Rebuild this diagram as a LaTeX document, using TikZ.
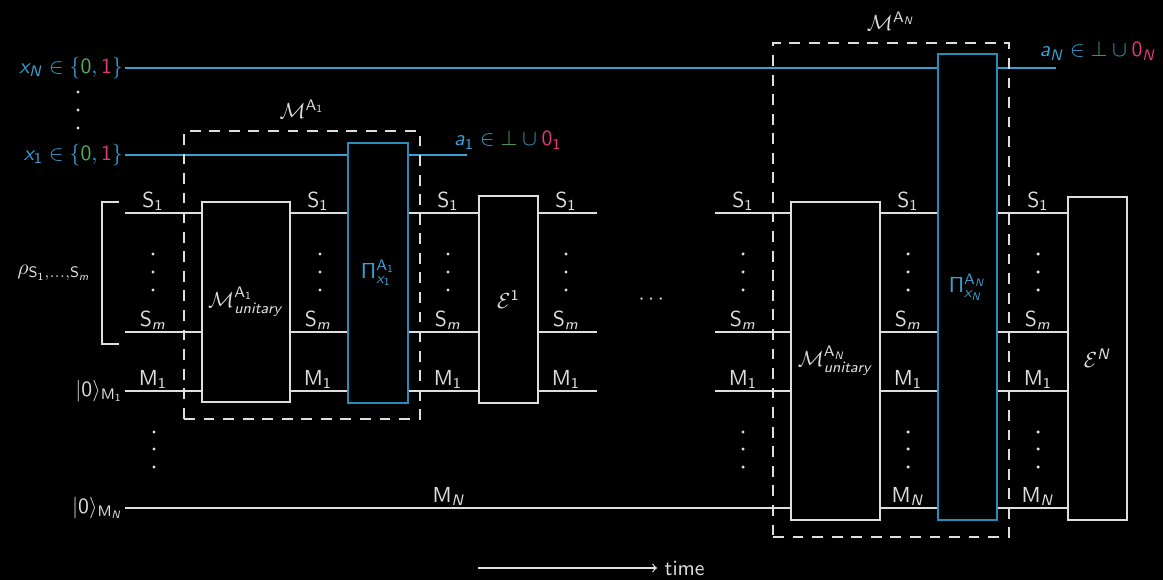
\documentclass[tikz,border=0pt]{standalone}
\usepackage{amsmath}
\usepackage{tikz}
\usetikzlibrary{positioning}

% sans serif math, as on slides
\DeclareSymbolFont{operators}{OT1}{cmss}{m}{n}
\DeclareSymbolFont{sfletters}{OT1}{cmss}{m}{sl}
\DeclareMathSymbol{a}{\mathalpha}{sfletters}{`a}
\DeclareMathSymbol{i}{\mathalpha}{sfletters}{`i}
\DeclareMathSymbol{m}{\mathalpha}{sfletters}{`m}
\DeclareMathSymbol{n}{\mathalpha}{sfletters}{`n}
\DeclareMathSymbol{r}{\mathalpha}{sfletters}{`r}
\DeclareMathSymbol{t}{\mathalpha}{sfletters}{`t}
\DeclareMathSymbol{u}{\mathalpha}{sfletters}{`u}
\DeclareMathSymbol{x}{\mathalpha}{sfletters}{`x}
\DeclareMathSymbol{y}{\mathalpha}{sfletters}{`y}
\DeclareMathSymbol{N}{\mathalpha}{sfletters}{`N}

\definecolor{wirew}{RGB}{222,222,222}
\definecolor{qblue}{RGB}{58,160,208}
\definecolor{qbox}{RGB}{40,140,185}
\definecolor{qgreen}{RGB}{86,170,96}
\definecolor{qpink}{RGB}{228,58,120}

\tikzset{
    wire/.style={draw=wirew, line width=0.9pt},
    cwire/.style={draw=qblue, line width=0.8pt},
    gate/.style={shape=rectangle, draw=wirew, fill=black, line width=0.9pt, inner sep=0pt},
    pgate/.style={shape=rectangle, draw=qbox, fill=black, line width=0.8pt, inner sep=0pt, text=qblue},
    group/.style={shape=rectangle, draw=wirew, dash pattern=on 5pt off 4pt, line width=0.8pt, inner sep=0pt},
    wlab/.style={anchor=south, inner sep=1pt, outer sep=0pt},
    inlab/.style={anchor=east, inner sep=1pt, outer sep=0pt},
}

\begin{document}
\begin{tikzpicture}[x=0.01617cm, y=-0.01617cm, font=\sffamily, text=wirew]
        % Background:
        \fill[black] (0, 0) rectangle (1163, 580);
        \useasboundingbox (0, 0) rectangle (1163, 580);

        % Inputs:
        \node[inlab, text=qblue](xN) at (125, 68){$x_N \in \{{\color{qgreen}0}, {\color{qpink}1}\}$};
        \node[inlab, text=qblue](x1) at (125, 155){$x_1 \in \{{\color{qgreen}0}, {\color{qpink}1}\}$};
        \node(rho) at (54, 273){$\rho_{\mathrm{S}_1,\ldots,\mathrm{S}_m}$};
        \node[inlab](k1) at (125, 391){$|0\rangle_{\mathrm{M}_1}$};
        \node[inlab](kN) at (125, 508){$|0\rangle_{\mathrm{M}_N}$};
        \draw[wire] (119, 202) -- (102, 202) -- (102, 344) -- (119, 344);

        % Wire ends:
        \coordinate (xNend) at (1056, 68);
        \coordinate (x1end) at (467, 155);
        \coordinate (s1a) at (125, 213);
        \coordinate (s1b) at (597, 213);
        \coordinate (sma) at (125, 332);
        \coordinate (smb) at (597, 332);
        \coordinate (m1b) at (597, 391);
        \coordinate (s1c) at (715, 213);
        \coordinate (s1d) at (1068, 213);
        \coordinate (smc) at (715, 332);
        \coordinate (smd) at (1068, 332);
        \coordinate (m1c) at (715, 391);
        \coordinate (m1d) at (1068, 391);
        \coordinate (mnd) at (1068, 508);

        % Wires:
        \draw[cwire] (xN.east) -- (xNend);
        \draw[cwire] (x1.east) -- (x1end);
        \draw[wire] (s1a) -- (s1b);
        \draw[wire] (sma) -- (smb);
        \draw[wire] (k1.east) -- (m1b);
        \draw[wire] (s1c) -- (s1d);
        \draw[wire] (smc) -- (smd);
        \draw[wire] (m1c) -- (m1d);
        \draw[wire] (kN.east) -- (mnd);

        % Gates:
        \node[gate, minimum width=1.423cm, minimum height=3.234cm](U1) at (246, 302){$\mathcal{M}^{\mathrm{A}_1}_{unitary}$};
        \node[pgate, minimum width=0.970cm, minimum height=4.204cm](P1) at (378, 273){$\Pi^{\mathrm{A}_1}_{x_1}$};
        \node[gate, minimum width=0.954cm, minimum height=3.347cm](E1) at (508.5, 299.5){$\mathcal{E}^1$};
        \node[gate, minimum width=1.439cm, minimum height=5.142cm](UN) at (835.5, 361){$\mathcal{M}^{\mathrm{A}_N}_{unitary}$};
        \node[pgate, minimum width=0.954cm, minimum height=7.535cm](PN) at (967.5, 287){$\Pi^{\mathrm{A}_N}_{x_N}$};
        \node[gate, minimum width=0.954cm, minimum height=5.223cm](EN) at (1097.5, 358.5){$\mathcal{E}^N$};

        % Measurement groups:
        \node[group, minimum width=3.816cm, minimum height=4.657cm](G1) at (302, 275){};
        \node[above=2pt of G1](G1lab){$\mathcal{M}^{\mathrm{A}_1}$};
        \node[group, minimum width=3.816cm, minimum height=7.988cm](GN) at (891, 290){};
        \node[above=2pt of GN](GNlab){$\mathcal{M}^{\mathrm{A}_N}$};

        % Outcomes:
        \node[text=qblue](a1) at (508, 140){$a_1 \in {\color{qgreen}\bot} \cup {\color{qpink}0_1}$};
        \node[text=qblue](aN) at (1098, 51){$a_N \in {\color{qgreen}\bot} \cup {\color{qpink}0_N}$};

        % Wire labels:
        \node[wlab](l1) at (153, 213){$\mathrm{S}_1$};
        \node[wlab](l2) at (153, 332){$\mathrm{S}_m$};
        \node[wlab](l3) at (153, 391){$\mathrm{M}_1$};
        \node[wlab](l4) at (318, 213){$\mathrm{S}_1$};
        \node[wlab](l5) at (318, 332){$\mathrm{S}_m$};
        \node[wlab](l6) at (318, 391){$\mathrm{M}_1$};
        \node[wlab](l7) at (448, 213){$\mathrm{S}_1$};
        \node[wlab](l8) at (448, 332){$\mathrm{S}_m$};
        \node[wlab](l9) at (448, 391){$\mathrm{M}_1$};
        \node[wlab](l10) at (566, 213){$\mathrm{S}_1$};
        \node[wlab](l11) at (566, 332){$\mathrm{S}_m$};
        \node[wlab](l12) at (566, 391){$\mathrm{M}_1$};
        \node[wlab](l13) at (449, 508){$\mathrm{M}_N$};
        \node[wlab](l14) at (743, 213){$\mathrm{S}_1$};
        \node[wlab](l15) at (743, 332){$\mathrm{S}_m$};
        \node[wlab](l16) at (743, 391){$\mathrm{M}_1$};
        \node[wlab](l17) at (908, 213){$\mathrm{S}_1$};
        \node[wlab](l18) at (908, 332){$\mathrm{S}_m$};
        \node[wlab](l19) at (908, 391){$\mathrm{M}_1$};
        \node[wlab](l20) at (908, 508){$\mathrm{M}_N$};
        \node[wlab](l21) at (1038, 213){$\mathrm{S}_1$};
        \node[wlab](l22) at (1038, 332){$\mathrm{S}_m$};
        \node[wlab](l23) at (1038, 391){$\mathrm{M}_1$};
        \node[wlab](l24) at (1038, 508){$\mathrm{M}_N$};

        % Dots:
        \fill[wirew] (78, 92) circle (0.8pt) (78, 110) circle (0.8pt) (78, 128) circle (0.8pt);
        \fill[wirew] (153, 254) circle (0.8pt) (153, 272) circle (0.8pt) (153, 290) circle (0.8pt);
        \fill[wirew] (320, 254) circle (0.8pt) (320, 272) circle (0.8pt) (320, 290) circle (0.8pt);
        \fill[wirew] (448, 254) circle (0.8pt) (448, 272) circle (0.8pt) (448, 290) circle (0.8pt);
        \fill[wirew] (566, 254) circle (0.8pt) (566, 272) circle (0.8pt) (566, 290) circle (0.8pt);
        \fill[wirew] (743, 254) circle (0.8pt) (743, 272) circle (0.8pt) (743, 290) circle (0.8pt);
        \fill[wirew] (908, 254) circle (0.8pt) (908, 272) circle (0.8pt) (908, 290) circle (0.8pt);
        \fill[wirew] (1038, 254) circle (0.8pt) (1038, 272) circle (0.8pt) (1038, 290) circle (0.8pt);
        \fill[wirew] (154, 432) circle (0.8pt) (154, 449) circle (0.8pt) (154, 467) circle (0.8pt);
        \fill[wirew] (743, 432) circle (0.8pt) (743, 449) circle (0.8pt) (743, 467) circle (0.8pt);
        \fill[wirew] (908, 432) circle (0.8pt) (908, 449) circle (0.8pt) (908, 467) circle (0.8pt);
        \fill[wirew] (1038, 432) circle (0.8pt) (1038, 449) circle (0.8pt) (1038, 467) circle (0.8pt);
        \node(skip) at (653, 300){$\cdots$};

        % Time axis:
        \coordinate (t0) at (478, 568);
        \node[anchor=west](time) at (657, 568){time};
        \draw[draw=wirew, line width=0.6pt, ->] (t0) -- (time.west);
    \end{tikzpicture}
\end{document}
